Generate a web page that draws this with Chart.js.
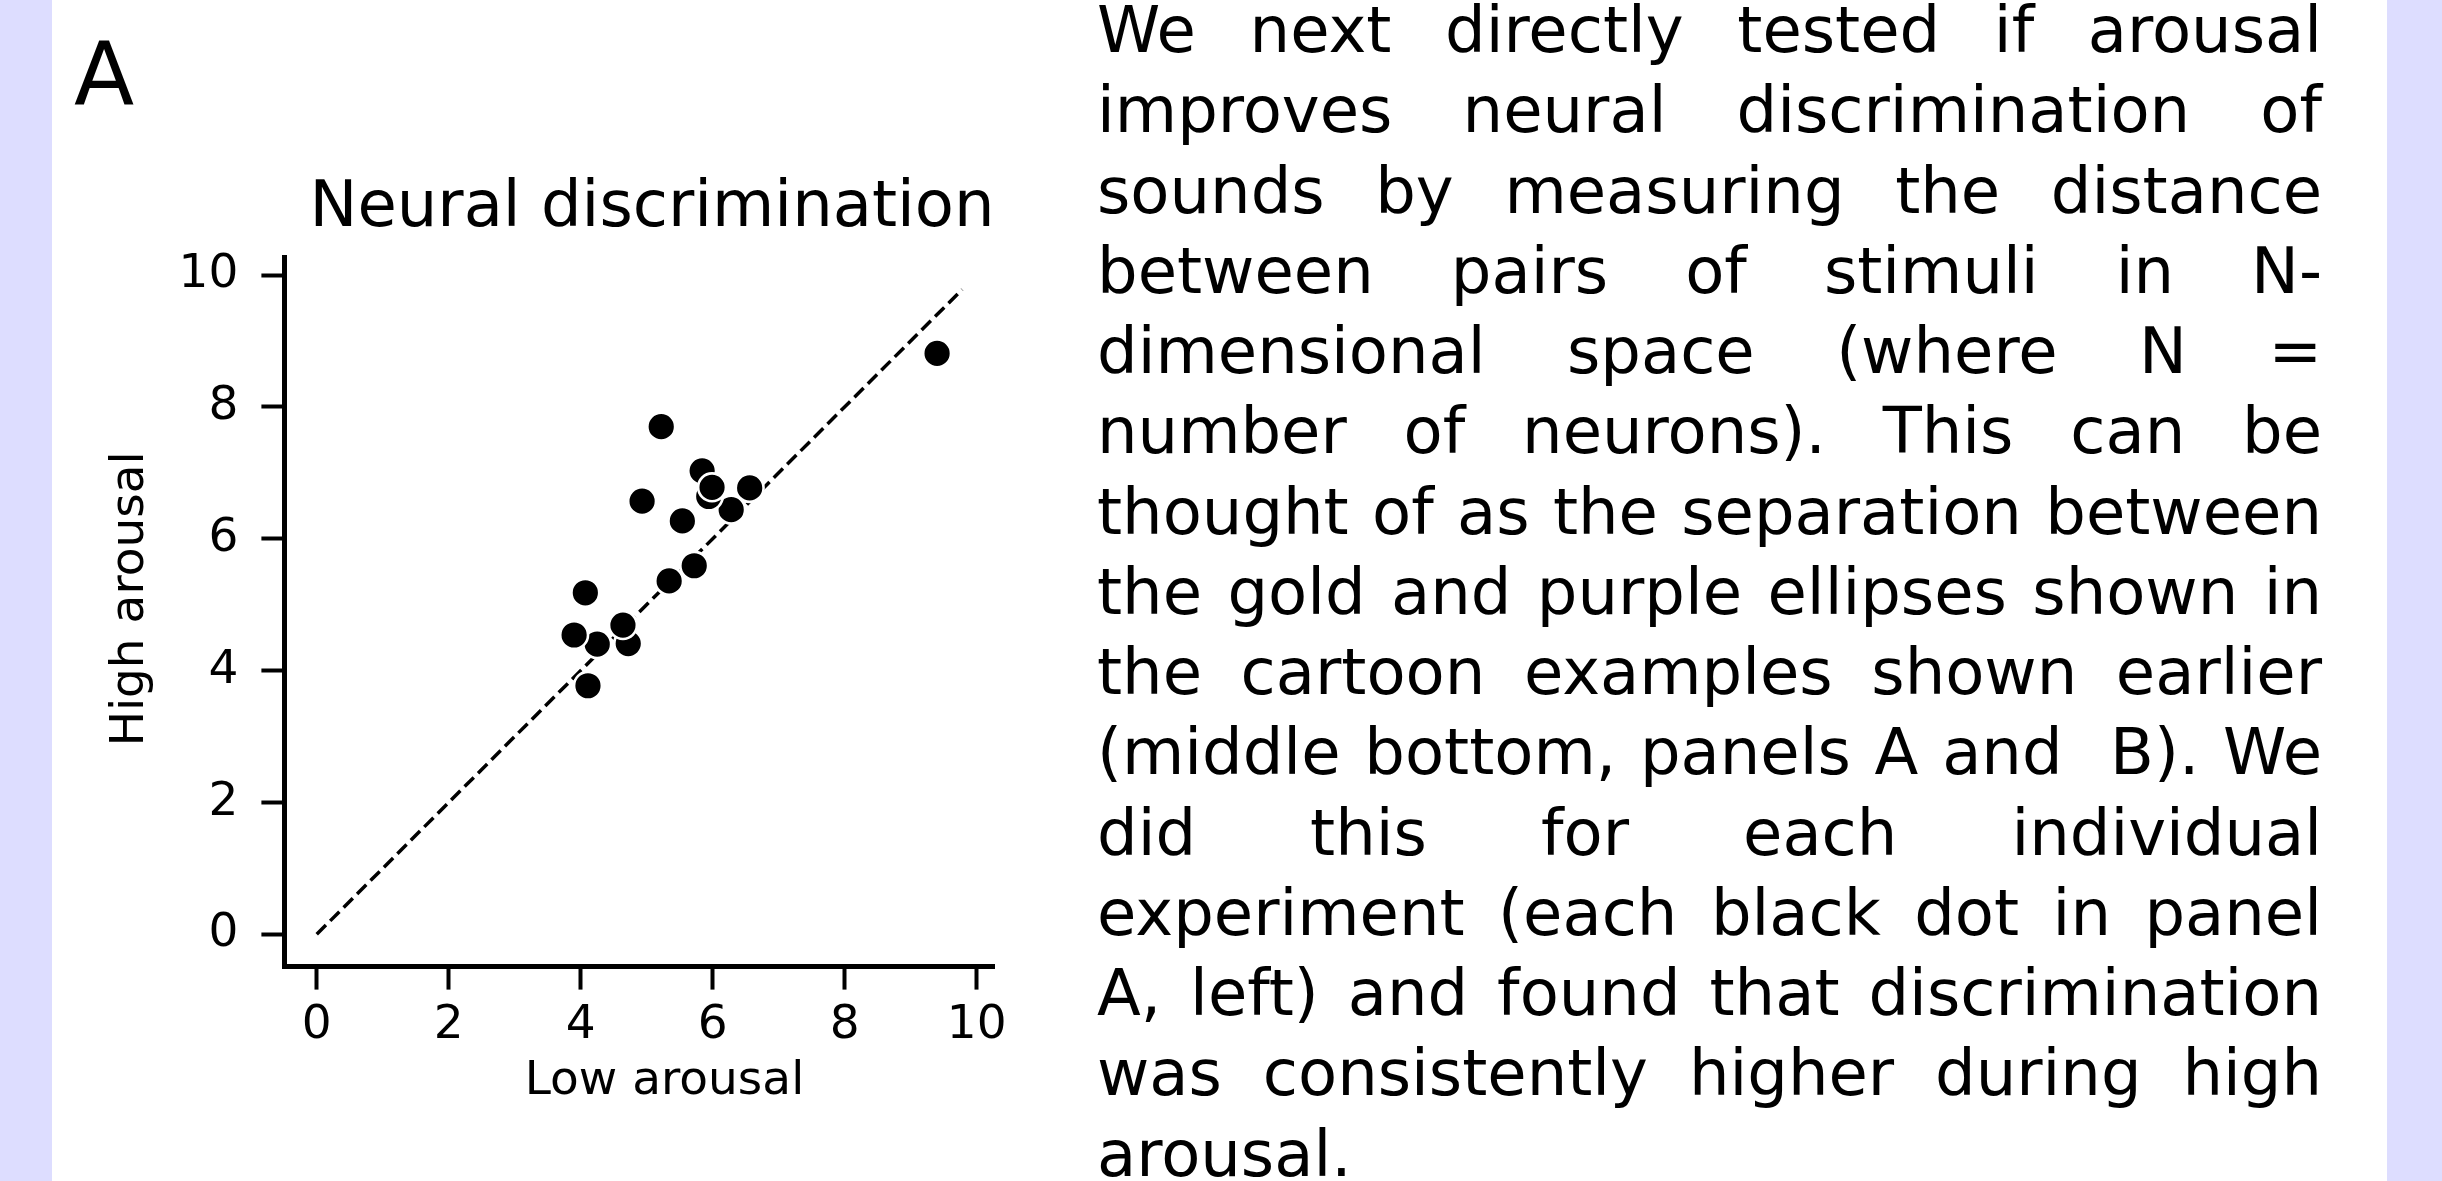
<!DOCTYPE html>
<html>
<head>
<meta charset="utf-8">
<title>Neural discrimination</title>
<script src="https://cdn.jsdelivr.net/npm/chart.js@4.4.1/dist/chart.umd.min.js"></script>
<style>
    html, body {
        margin: 0;
        padding: 0;
        background: #ffffff;
        font-family: 'DejaVu Sans', sans-serif;
        color: #000;
    }
    #page {
        position: relative;
        width: 2442px;
        height: 1181px;
        overflow: hidden;
        background: #ffffff;
    }
    .band {
        position: absolute;
        top: 0;
        height: 1181px;
        background: #ddddff;
    }
    #panelLabel {
        position: absolute;
        left: 74px;
        top: 29.5px;
        font-size: 88px;
        line-height: 88px;
    }
    #chartBox {
        position: absolute;
        left: 0;
        top: 0;
        width: 1090px;
        height: 1181px;
    }
    #caption {
        position: absolute;
        left: 1097px;
        top: -10px;
        width: 1225px;
        font-size: 64px;
        line-height: 80.25px;
        text-align: justify;
    }
</style>
</head>
<body>
<div id="page">
    <div class="band" style="left:0;width:52px"></div>
    <div class="band" style="left:2387px;width:55px"></div>
    <div id="panelLabel">A</div>
    <div id="chartBox"><canvas id="discriminationChart" width="1090" height="1181"></canvas></div>
    <div id="caption">We next directly tested if arousal improves neural discrimination of sounds by measuring the distance between pairs of stimuli in N-dimensional space (where N = number of neurons). This can be thought of as the separation between the gold and purple ellipses shown in the cartoon examples shown earlier (middle bottom, panels A and&nbsp; B). We did this for each individual experiment (each black dot in panel A, left) and found that discrimination was consistently higher during high arousal.</div>
</div>

<script>
// Neural discrimination per experiment: low vs high arousal
const LOW_AROUSAL = [4.11, 4.25, 3.90, 4.72, 4.64, 4.07, 5.34, 5.72, 5.54, 4.93, 6.28, 6.56, 5.84, 5.94, 5.99, 5.22, 9.40];
const HIGH_AROUSAL = [3.77, 4.40, 4.54, 4.41, 4.69, 5.18, 5.36, 5.59, 6.27, 6.57, 6.44, 6.77, 7.03, 6.64, 6.78, 7.70, 8.81];

// Unity line (x = y)
const UNITY_LINE = [0, 9.78];

// Tick labels
const X_TICKS = [0, 2, 4, 6, 8, 10];
const Y_TICKS = [0, 2, 4, 6, 8, 10];

// Axis titles
const X_TITLE = 'Low arousal';
const Y_TITLE = 'High arousal';

(function () {
    'use strict';

    const FONT_FAMILY = "'DejaVu Sans', sans-serif";
    const TICK_FONT = { family: FONT_FAMILY, size: 47, weight: 'normal', lineHeight: 1.2 };

    /**
     * Axis titles sit a little off-centre in the original figure, so they are
     * drawn here relative to the chart area instead of by the scales.
     */
    const axisTitlesPlugin = {
        id: 'axisTitles',
        afterDraw: function (chart) {
            const ctx = chart.ctx;
            const area = chart.chartArea;
            const midX = (area.left + area.right) / 2;
            const midY = (area.top + area.bottom) / 2;

            ctx.save();
            ctx.fillStyle = '#000';
            ctx.font = '47px ' + FONT_FAMILY;
            ctx.textAlign = 'center';
            ctx.textBaseline = 'alphabetic';

            // x title
            ctx.fillText(X_TITLE, midX + 25, area.bottom + 127.7);

            // y title (rotated)
            ctx.translate(area.left - 141.5, midY - 13);
            ctx.rotate(-Math.PI / 2);
            ctx.fillText(Y_TITLE, 0, 0);
            ctx.restore();
        }
    };

    /**
     * Builds a linear axis in the despined matplotlib look.
     */
    function makeAxis(ticks, extra) {
        return Object.assign({
            type: 'linear',
            min: -0.49,
            max: 10.27,
            afterBuildTicks: function (scale) {
                scale.ticks = ticks.map(function (v) { return { value: v }; });
            },
            ticks: {
                color: '#000',
                font: TICK_FONT,
                autoSkip: false,
                maxRotation: 0
            },
            grid: {
                drawOnChartArea: false,
                drawTicks: true,
                tickLength: 23,
                tickWidth: 4,
                tickColor: '#000'
            },
            border: {
                display: true,
                color: '#000',
                width: 5
            },
            title: {
                display: false
            }
        }, extra);
    }

    function init() {
        const canvas = document.getElementById('discriminationChart');
        const points = LOW_AROUSAL.map(function (x, i) {
            return { x: x, y: HIGH_AROUSAL[i] };
        });

        const xAxis = makeAxis(X_TICKS, {
            position: 'bottom',
            afterFit: function (scale) { scale.height = 139.7; }
        });
        xAxis.ticks.padding = 8;

        const yAxis = makeAxis(Y_TICKS, {
            position: 'left',
            afterFit: function (scale) { scale.width = 284.4; }
        });
        yAxis.ticks.padding = 23;

        new Chart(canvas.getContext('2d'), {
            type: 'scatter',
            data: {
                datasets: [{
                    label: 'Experiments',
                    data: points,
                    backgroundColor: '#000',
                    borderColor: '#fff',
                    borderWidth: 2.6,
                    pointRadius: 13.9,
                    pointHoverRadius: 13.9,
                    order: 1
                }, {
                    type: 'line',
                    label: 'Unity',
                    data: UNITY_LINE.map(function (v) { return { x: v, y: v }; }),
                    borderColor: '#000',
                    borderWidth: 3.5,
                    borderDash: [13, 6],
                    borderCapStyle: 'butt',
                    pointRadius: 0,
                    fill: false,
                    order: 2
                }]
            },
            options: {
                responsive: false,
                animation: false,
                devicePixelRatio: 1,
                layout: {
                    padding: { left: 0, right: 95.5, top: 170.7, bottom: 74.7 }
                },
                plugins: {
                    legend: { display: false },
                    tooltip: { enabled: false },
                    title: {
                        display: true,
                        text: 'Neural discrimination',
                        align: 'end',
                        fullSize: false,
                        color: '#000',
                        font: { family: FONT_FAMILY, size: 64, weight: 'normal', lineHeight: 1.2 },
                        padding: { top: 0, bottom: 9.7 }
                    }
                },
                scales: {
                    x: xAxis,
                    y: yAxis
                }
            },
            plugins: [axisTitlesPlugin]
        });
    }

    if (document.readyState === 'loading') {
        document.addEventListener('DOMContentLoaded', init);
    } else {
        init();
    }
})();
</script>
</body>
</html>
